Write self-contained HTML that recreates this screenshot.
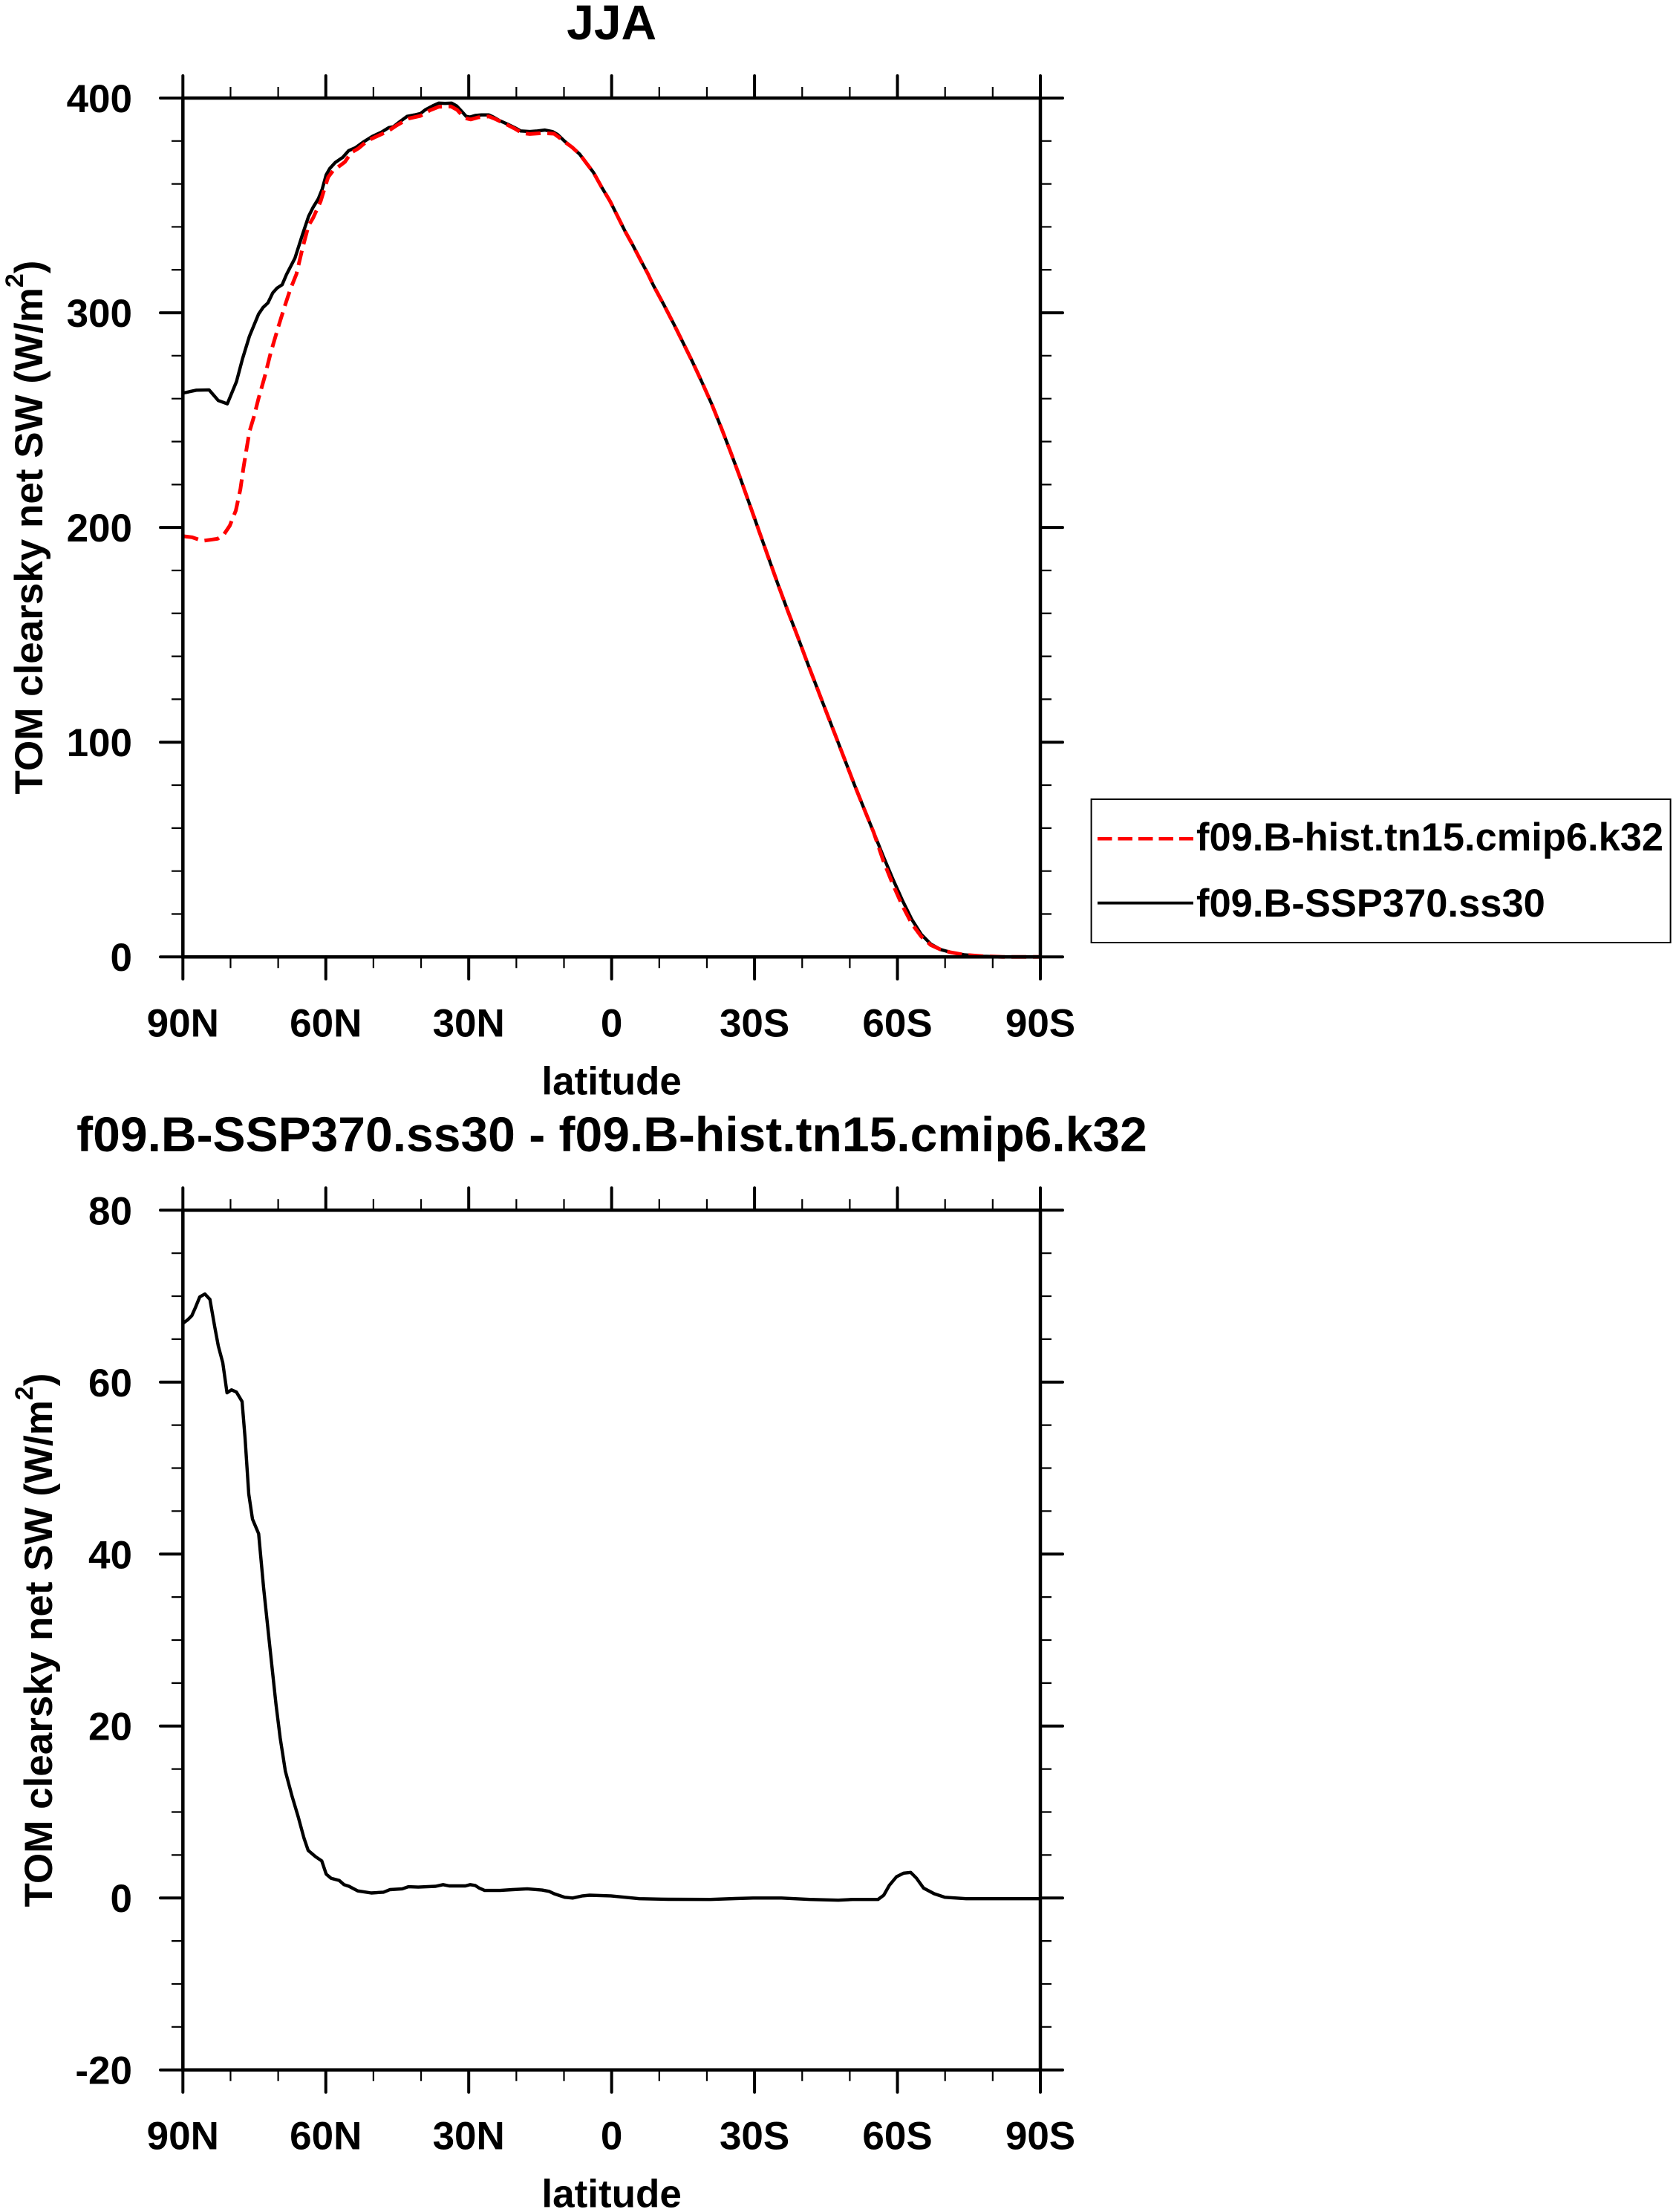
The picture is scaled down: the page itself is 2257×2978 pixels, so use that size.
<!DOCTYPE html>
<html>
<head>
<meta charset="utf-8">
<style>
html,body{margin:0;padding:0;background:#fff;}
svg{display:block;}
</style>
</head>
<body>
<svg xmlns="http://www.w3.org/2000/svg" width="2257" height="2978" viewBox="0 0 2257 2978">
<rect x="0" y="0" width="2257" height="2978" fill="#fff"/>
<g font-family="'Liberation Sans', Arial, sans-serif" font-weight="bold" fill="#000">

<!-- ================= PLOT 1 ================= -->
<text x="823.65" y="53" font-size="66" text-anchor="middle">JJA</text>

<!-- curves -->
<polyline fill="none" stroke="#000" stroke-width="4.4" stroke-linejoin="round" points="247.3,529.0 264.5,525.3 281.6,524.9 293.9,539.2 306.1,543.7 318.4,513.9 326.5,483.3 335.9,452.7 348.2,422.9 354.3,413.9 360.8,407.8 367.3,394.3 373.1,387.8 380.0,383.3 385.7,369.8 397.1,347.8 407.3,315.9 415.5,291.4 421.6,279.2 428.6,267.8 433.9,254.7 439.2,235.5 444.1,226.9 451.4,218.8 461.6,211.8 469.4,202.9 478.8,198.8 489.0,191.4 501.2,183.7 513.5,178.0 523.7,171.8 529.8,170.6 538.0,164.1 548.2,156.7 558.4,154.7 566.5,152.7 572.7,147.8 582.9,142.4 591.0,138.8 599.2,139.2 608.2,138.8 614.7,142.4 621.6,149.8 627.8,156.7 632.7,157.6 640.0,155.5 648.2,154.7 658.4,154.7 664.5,157.6 672.7,162.4 682.9,166.9 693.1,171.8 701.2,176.3 713.5,177.1 723.7,176.3 733.9,175.1 744.1,177.1 751.0,181.2 760.4,190.2 770.6,198.4 780.8,207.8 789.0,218.8 799.2,232.2 809.4,250.6 821.6,271.0 831.8,291.4 842.0,311.8 852.2,330.2 862.4,349.8 872.7,369.0 880.1,384.6 894.2,410.7 907.0,435.5 919.9,461.5 932.7,487.5 945.5,515.0 958.4,543.9 971.2,575.7 984.0,608.9 996.9,643.6 1009.7,679.7 1022.5,715.9 1035.3,752.0 1048.2,788.2 1061.0,822.8 1073.8,856.1 1086.7,890.8 1099.5,924.0 1112.3,957.3 1125.2,990.5 1138.0,1023.8 1150.8,1057.0 1163.6,1088.8 1176.5,1120.6 1189.3,1152.4 1202.1,1182.8 1215.0,1211.7 1227.8,1237.7 1240.6,1257.9 1253.5,1271.0 1266.3,1278.2 1279.1,1281.9 1298.4,1285.4 1324.0,1287.4 1349.7,1288.2 1401,1288.3"/>
<polyline fill="none" stroke="#ff0000" stroke-width="5" stroke-dasharray="20 9" stroke-linejoin="round" points="247.3,722.0 258.4,723.3 272.7,728.2 293.1,725.3 301.2,720.0 309.4,707.8 317.6,687.3 323.7,658.8 327.8,630.2 331.8,605.7 335.9,581.2 342.0,560.8 348.2,536.3 356.3,507.8 364.5,475.1 374.7,440.4 382.9,413.9 391.0,389.4 399.2,369.0 407.3,334.3 415.5,303.7 421.6,293.5 431.8,271.0 438.0,250.6 442.0,238.4 448.2,230.2 456.3,224.1 464.5,218.0 472.7,205.7 482.9,199.6 495.1,189.4 505.3,184.5 521.6,177.1 533.9,169.0 550.2,159.6 566.5,155.9 578.8,148.6 591.0,143.7 607.3,143.3 615.5,147.8 625.7,158.8 633.9,160.8 644.1,158.0 658.4,156.7 666.5,160.0 680.8,166.9 693.1,173.1 703.3,179.2 713.5,180.4 729.8,179.2 746.1,180.0 752.2,184.5 760.4,191.0 770.6,198.4 780.8,207.8 789.0,218.8 799.2,232.2 809.4,250.6 821.6,271.0 831.8,291.4 842.0,311.8 852.2,330.2 862.4,349.8 872.7,369.0 880.1,384.6 894.2,410.7 907.0,435.5 919.9,461.5 932.7,487.5 945.5,515.0 958.4,543.9 971.2,575.7 984.0,608.9 996.9,643.6 1009.7,679.7 1022.5,715.9 1035.3,752.0 1048.2,788.2 1061.0,822.8 1073.8,856.1 1086.7,890.8 1099.5,924.0 1112.3,957.3 1125.2,990.5 1138.0,1023.8 1150.8,1057.0 1163.6,1088.8 1176.5,1120.6 1189.3,1158.2 1202.1,1190.0 1215.0,1218.9 1227.8,1243.5 1240.6,1260.8 1253.5,1272.4 1266.3,1278.2 1279.1,1281.9 1298.4,1285.4 1324.0,1287.4 1349.7,1288.2 1401,1288.3"/>

<!-- frame -->
<rect x="246.3" y="132" width="1154.7" height="1156.3" fill="none" stroke="#000" stroke-width="4.5"/>
<!-- major ticks -->
<path fill="none" stroke="#000" stroke-width="4" stroke-linecap="round" d="
M246.3 1288.3V1318 M438.75 1288.3V1318 M631.2 1288.3V1318 M823.65 1288.3V1318 M1016.1 1288.3V1318 M1208.55 1288.3V1318 M1401 1288.3V1318
M246.3 132V102 M438.75 132V102 M631.2 132V102 M823.65 132V102 M1016.1 132V102 M1208.55 132V102 M1401 132V102
M246.3 1288.3H216 M246.3 999.23H216 M246.3 710.15H216 M246.3 421.08H216 M246.3 132H216
M1401 1288.3H1431 M1401 999.23H1431 M1401 710.15H1431 M1401 421.08H1431 M1401 132H1431"/>
<!-- minor ticks -->
<path fill="none" stroke="#000" stroke-width="2.2" d="
M310.45 1288.3V1303.3 M374.6 1288.3V1303.3 M502.9 1288.3V1303.3 M567.05 1288.3V1303.3 M695.35 1288.3V1303.3 M759.5 1288.3V1303.3 M887.8 1288.3V1303.3 M951.95 1288.3V1303.3 M1080.25 1288.3V1303.3 M1144.4 1288.3V1303.3 M1272.7 1288.3V1303.3 M1336.85 1288.3V1303.3
M310.45 132V117 M374.6 132V117 M502.9 132V117 M567.05 132V117 M695.35 132V117 M759.5 132V117 M887.8 132V117 M951.95 132V117 M1080.25 132V117 M1144.4 132V117 M1272.7 132V117 M1336.85 132V117
M246.3 1230.49H231 M246.3 1172.67H231 M246.3 1114.86H231 M246.3 1057.04H231 M246.3 941.41H231 M246.3 883.6H231 M246.3 825.78H231 M246.3 767.97H231 M246.3 652.34H231 M246.3 594.52H231 M246.3 536.71H231 M246.3 478.89H231 M246.3 363.26H231 M246.3 305.45H231 M246.3 247.63H231 M246.3 189.82H231
M1401 1230.49H1416 M1401 1172.67H1416 M1401 1114.86H1416 M1401 1057.04H1416 M1401 941.41H1416 M1401 883.6H1416 M1401 825.78H1416 M1401 767.97H1416 M1401 652.34H1416 M1401 594.52H1416 M1401 536.71H1416 M1401 478.89H1416 M1401 363.26H1416 M1401 305.45H1416 M1401 247.63H1416 M1401 189.82H1416"/>

<!-- y tick labels -->
<g font-size="53" text-anchor="end">
<text x="178" y="151">400</text>
<text x="178" y="440">300</text>
<text x="178" y="729">200</text>
<text x="178" y="1018">100</text>
<text x="178" y="1307">0</text>
</g>
<!-- x tick labels -->
<g font-size="53" text-anchor="middle">
<text x="246.3" y="1395.5">90N</text>
<text x="438.75" y="1395.5">60N</text>
<text x="631.2" y="1395.5">30N</text>
<text x="823.65" y="1395.5">0</text>
<text x="1016.1" y="1395.5">30S</text>
<text x="1208.55" y="1395.5">60S</text>
<text x="1401" y="1395.5">90S</text>
<text x="823.65" y="1473.5">latitude</text>
</g>
<text font-size="53" text-anchor="middle" transform="translate(57,710) rotate(-90)">TOM clearsky net SW (W/m<tspan font-size="34" dy="-26">2</tspan><tspan dy="26">)</tspan></text>

<!-- legend -->
<rect x="1469.6" y="1076" width="780" height="193" fill="none" stroke="#000" stroke-width="2"/>
<path d="M1478 1129.3H1607" stroke="#ff0000" stroke-width="4.5" stroke-dasharray="19.5 8" fill="none"/>
<path d="M1478 1215.7H1607" stroke="#000" stroke-width="3.8" fill="none"/>
<text x="1611" y="1145" font-size="52.5" textLength="629" lengthAdjust="spacingAndGlyphs">f09.B-hist.tn15.cmip6.k32</text>
<text x="1611" y="1234" font-size="52.5">f09.B-SSP370.ss30</text>

<!-- ================= PLOT 2 ================= -->
<text x="824" y="1550" font-size="66" text-anchor="middle">f09.B-SSP370.ss30 - f09.B-hist.tn15.cmip6.k32</text>

<polyline fill="none" stroke="#000" stroke-width="4.4" stroke-linejoin="round" points="246.7,1781.4 252.7,1776.9 258.3,1771.3 263.3,1760.0 269,1746.0 276,1742.1 282.7,1749.4 289.3,1787.0 294,1812.2 300,1834.7 305.7,1875.1 311.7,1871.2 318.3,1874.0 326,1886.9 330,1935.7 335,2011.4 340,2045.1 348.3,2064.8 355,2137.7 363.3,2216.3 371.7,2294.8 377.3,2339.7 384.3,2384.6 393.3,2418.3 401.7,2446.4 409.3,2474.4 415,2491.2 425,2499.7 433.3,2505.3 439.3,2523.2 446,2528.8 456.7,2531.6 463.3,2537.3 470,2539.5 481.7,2545.7 500,2548.5 516.7,2547.4 525,2544.0 541.7,2542.9 550,2540.1 563.3,2540.6 586.7,2539.5 596.7,2537.3 605,2539.0 626.7,2539.0 633.3,2537.3 640,2538.4 645,2541.7 652.7,2545.1 673.3,2545.1 690,2544.0 710,2542.9 730,2544.6 739.3,2546.3 746.2,2549.5 760.5,2554.3 771.1,2555.3 784.5,2552.4 794.0,2551.5 822.7,2552.4 861.0,2556.2 900,2557.0 956.7,2557.2 990,2556.0 1014.1,2555.3 1052.3,2555.3 1090.6,2557.2 1128.9,2558.2 1148,2557.2 1182.4,2557.2 1190.1,2551.5 1197.7,2538.1 1207.3,2526.6 1216.9,2521.8 1226.4,2520.8 1234.1,2528.5 1243.7,2541.9 1258.0,2549.5 1272.4,2554.3 1301.1,2556.2 1401,2556.2"/>

<rect x="246.3" y="1629.3" width="1154.7" height="1157.4" fill="none" stroke="#000" stroke-width="4.5"/>
<path fill="none" stroke="#000" stroke-width="4" stroke-linecap="round" d="
M246.3 2786.7V2816.7 M438.75 2786.7V2816.7 M631.2 2786.7V2816.7 M823.65 2786.7V2816.7 M1016.1 2786.7V2816.7 M1208.55 2786.7V2816.7 M1401 2786.7V2816.7
M246.3 1629.3V1599.3 M438.75 1629.3V1599.3 M631.2 1629.3V1599.3 M823.65 1629.3V1599.3 M1016.1 1629.3V1599.3 M1208.55 1629.3V1599.3 M1401 1629.3V1599.3
M246.3 2786.7H216 M246.3 2555.22H216 M246.3 2323.74H216 M246.3 2092.26H216 M246.3 1860.78H216 M246.3 1629.3H216
M1401 2786.7H1431 M1401 2555.22H1431 M1401 2323.74H1431 M1401 2092.26H1431 M1401 1860.78H1431 M1401 1629.3H1431"/>
<path fill="none" stroke="#000" stroke-width="2.2" d="
M310.45 2786.7V2801.7 M374.6 2786.7V2801.7 M502.9 2786.7V2801.7 M567.05 2786.7V2801.7 M695.35 2786.7V2801.7 M759.5 2786.7V2801.7 M887.8 2786.7V2801.7 M951.95 2786.7V2801.7 M1080.25 2786.7V2801.7 M1144.4 2786.7V2801.7 M1272.7 2786.7V2801.7 M1336.85 2786.7V2801.7
M310.45 1629.3V1614.3 M374.6 1629.3V1614.3 M502.9 1629.3V1614.3 M567.05 1629.3V1614.3 M695.35 1629.3V1614.3 M759.5 1629.3V1614.3 M887.8 1629.3V1614.3 M951.95 1629.3V1614.3 M1080.25 1629.3V1614.3 M1144.4 1629.3V1614.3 M1272.7 1629.3V1614.3 M1336.85 1629.3V1614.3
M246.3 2728.83H231 M246.3 2670.96H231 M246.3 2613.09H231 M246.3 2497.35H231 M246.3 2439.48H231 M246.3 2381.61H231 M246.3 2265.87H231 M246.3 2208.0H231 M246.3 2150.13H231 M246.3 2034.39H231 M246.3 1976.52H231 M246.3 1918.65H231 M246.3 1802.91H231 M246.3 1745.04H231 M246.3 1687.17H231
M1401 2728.83H1416 M1401 2670.96H1416 M1401 2613.09H1416 M1401 2497.35H1416 M1401 2439.48H1416 M1401 2381.61H1416 M1401 2265.87H1416 M1401 2208.0H1416 M1401 2150.13H1416 M1401 2034.39H1416 M1401 1976.52H1416 M1401 1918.65H1416 M1401 1802.91H1416 M1401 1745.04H1416 M1401 1687.17H1416"/>

<g font-size="53" text-anchor="end">
<text x="178" y="1648.3">80</text>
<text x="178" y="1879.8">60</text>
<text x="178" y="2111.3">40</text>
<text x="178" y="2342.7">20</text>
<text x="178" y="2574.2">0</text>
<text x="178" y="2805.7">-20</text>
</g>
<g font-size="53" text-anchor="middle">
<text x="246.3" y="2893.5">90N</text>
<text x="438.75" y="2893.5">60N</text>
<text x="631.2" y="2893.5">30N</text>
<text x="823.65" y="2893.5">0</text>
<text x="1016.1" y="2893.5">30S</text>
<text x="1208.55" y="2893.5">60S</text>
<text x="1401" y="2893.5">90S</text>
<text x="823.65" y="2971.5">latitude</text>
</g>
<text font-size="53" text-anchor="middle" transform="translate(70,2208) rotate(-90)">TOM clearsky net SW (W/m<tspan font-size="34" dy="-26">2</tspan><tspan dy="26">)</tspan></text>

</g>
</svg>
</body>
</html>
